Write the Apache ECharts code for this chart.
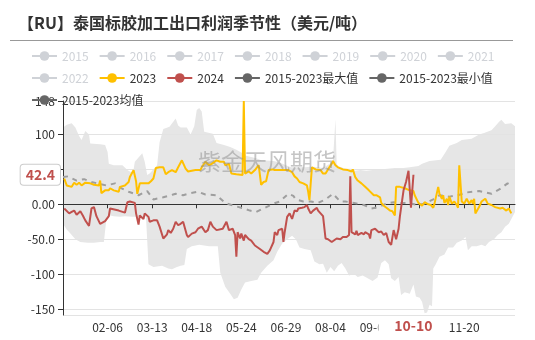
<!DOCTYPE html>
<html><head><meta charset="utf-8">
<script src="https://cdn.jsdelivr.net/npm/echarts@6/dist/echarts.min.js"></script>
<style>html,body{margin:0;padding:0;background:#fff}#c{width:535px;height:340px}</style>
</head><body><div id="c"></div>
<script>
// day-of-year categories (leap year, MM-DD)
const monthDays = [31,29,31,30,31,30,31,31,30,31,30,31];
const categories = [];
monthDays.forEach((n, m) => { for (let d = 1; d <= n; d++) categories.push(String(m + 1).padStart(2, '0') + '-' + String(d).padStart(2, '0')); });

const legendYears = ['2015','2016','2017','2018','2019','2020','2021','2022'];

// [day index, value]
const s2023 = [[1,37],[3,27],[7,25],[9,31],[11,28],[13,31],[15,27],[18,31],[22,30],[25,28],[29,27],[30,34],[31,16],[34,20],[37,20],[38,23],[41,20],[45,18],[46,25],[50,27],[53,32],[54,39],[57,49],[59,33],[60,15],[62,30],[69,30],[71,33],[73,37],[75,52],[78,53],[81,53],[83,43],[85,46],[88,49],[91,46],[93,53],[96,63],[99,51],[101,47],[107,49],[111,49],[112,53],[115,61],[118,56],[120,58],[124,63],[127,61],[130,61],[131,56],[134,58],[136,44],[140,43],[145,42],[146,148],[147,44],[150,47],[152,44],[155,49],[158,56],[159,42],[160,28],[162,32],[164,33],[166,49],[169,50],[171,49],[177,49],[182,49],[185,46],[187,40],[189,37],[191,32],[194,30],[197,27],[198,18],[199,6],[201,53],[204,50],[208,49],[210,44],[212,44],[214,50],[217,58],[218,62],[220,56],[222,53],[226,50],[230,49],[233,47],[234,50],[236,39],[238,34],[241,30],[244,25],[247,20],[248,21],[251,13],[253,13],[256,10],[257,2],[259,-2],[262,-6],[264,-9],[266,-10],[268,-16],[269,25],[272,25],[276,23],[280,20],[283,19],[284,13],[287,2],[290,-2],[292,3],[295,0],[297,-1],[299,-5],[300,1],[303,25],[304,15],[306,8],[307,13],[308,2],[310,8],[311,-1],[312,11],[314,1],[315,-1],[316,4],[318,-1],[319,-5],[320,56],[322,4],[324,1],[326,8],[328,1],[330,6],[331,1],[332,8],[333,-13],[336,-4],[338,4],[341,8],[343,1],[346,-1],[349,-4],[353,-6],[355,-5],[358,-9],[360,-6],[362,-13]];

const s2024 = [[1,-6],[5,-13],[7,-11],[9,-9],[11,-15],[14,-10],[16,-16],[18,-23],[21,-31],[23,-6],[25,-4],[27,-17],[30,-28],[34,-24],[37,-17],[38,-6],[45,-9],[50,-12],[52,3],[54,4],[58,2],[59,-13],[61,-29],[62,-16],[65,-21],[66,-13],[69,-18],[70,-25],[73,-23],[76,-23],[78,-32],[81,-49],[84,-43],[85,-37],[87,-41],[89,-35],[91,-25],[93,-30],[95,-28],[97,-25],[100,-44],[101,-47],[104,-42],[107,-40],[109,-35],[112,-32],[115,-40],[117,-37],[119,-25],[121,-32],[124,-37],[129,-35],[132,-25],[134,-37],[137,-35],[139,-44],[140,-75],[141,-40],[143,-49],[144,-42],[146,-52],[147,-44],[150,-50],[152,-52],[155,-59],[159,-64],[162,-68],[165,-71],[167,-66],[170,-54],[171,-40],[173,-44],[174,-37],[177,-35],[178,-54],[179,-40],[181,-18],[183,-13],[185,-21],[187,-9],[189,-10],[190,-6],[193,-5],[195,-4],[197,-1],[198,-6],[200,-13],[202,-9],[205,-5],[206,-9],[208,-13],[210,-17],[212,-49],[214,-50],[217,-54],[218,-53],[221,-49],[224,-50],[226,-47],[229,-47],[231,-44],[232,40],[233,-40],[236,-43],[237,-38],[238,-44],[241,-41],[243,-43],[244,-40],[247,-43],[248,-49],[249,-37],[252,-35],[255,-40],[257,-39],[259,-44],[261,-41],[263,-54],[265,-58],[267,-37],[269,-50],[271,-35],[272,-18],[273,-5],[275,20],[277,32],[279,48],[281,-5],[282,-4],[283,42.4]];

const bandMax = [[0,110],[3,114],[7,116],[10,110],[13,98],[15,92],[18,105],[21,100],[22,87],[30,86],[34,85],[36,75],[37,58],[41,56],[48,56],[52,49],[55,46],[57,50],[58,61],[64,73],[66,61],[68,42],[70,44],[76,56],[78,89],[81,108],[86,111],[91,123],[93,113],[95,110],[100,110],[103,100],[106,112],[108,135],[110,138],[112,133],[114,104],[121,101],[124,88],[130,85],[135,82],[140,78],[145,73],[146,148],[147,70],[156,66],[160,63],[170,62],[175,60],[180,56],[184,53],[190,53],[196,53],[201,54],[210,52],[217,60],[218,63],[220,122],[221,58],[222,55],[228,51],[233,51],[236,48],[240,49],[245,48],[250,49],[256,50],[262,51],[268,52],[275,52],[280,53],[287,55],[290,58],[296,62],[305,64],[309,75],[312,84],[318,88],[322,92],[330,94],[336,100],[340,102],[346,106],[349,112],[352,118],[354,121],[357,115],[362,116],[365,112]];

const bandMin = [[0,-28],[3,-36],[6,-42],[10,-50],[14,-54],[20,-55],[25,-55],[30,-54],[33,-54],[35,-22],[38,-16],[41,-17],[46,-18],[50,-17],[56,-18],[60,-18],[67,-18],[69,-86],[73,-90],[80,-88],[85,-92],[88,-93],[92,-90],[95,-88],[98,-87],[100,-64],[104,-60],[110,-58],[118,-60],[125,-60],[127,-98],[131,-118],[135,-128],[138,-136],[141,-134],[144,-122],[147,-112],[152,-110],[157,-108],[160,-98],[165,-88],[170,-80],[173,-68],[177,-56],[181,-50],[185,-45],[188,-50],[191,-62],[195,-64],[200,-66],[203,-82],[207,-86],[210,-85],[213,-98],[216,-90],[219,-96],[222,-88],[225,-84],[228,-92],[231,-102],[235,-100],[238,-104],[242,-102],[246,-106],[250,-110],[254,-105],[257,-84],[260,-80],[263,-86],[265,-106],[268,-110],[271,-104],[273,-130],[276,-126],[280,-128],[283,-115],[285,-132],[288,-134],[290,-140],[292,-156],[294,-155],[296,-144],[298,-146],[299,-92],[301,-86],[304,-75],[308,-72],[311,-62],[315,-62],[318,-55],[322,-52],[325,-47],[327,-66],[330,-60],[334,-60],[338,-58],[341,-60],[344,-54],[348,-50],[351,-44],[354,-40],[357,-32],[360,-28],[363,-18],[365,-11]];

const meanLine = [[0,39],[4,40],[11,34],[17,36],[23,32],[30,29],[35,27],[42,30],[46,24],[53,18],[61,13],[68,19],[73,7],[81,10],[89,14],[91,15],[97,13],[103,16],[109,18],[115,14],[124,13],[131,2],[136,-1],[146,-6],[151,-9],[156,-11],[163,-5],[170,1],[175,4],[182,15],[186,12],[188,7],[194,4],[200,4],[206,2],[212,7],[218,15],[224,4],[228,4],[235,2],[243,-1],[249,-6],[255,-4],[261,1],[267,3],[272,2],[278,2],[287,-1],[292,1],[299,7],[304,13],[312,11],[319,13],[326,17],[336,19],[346,15],[353,22],[359,30],[362,27]];

const yMin = -158.6, yMax = 148;
const labelEvery = 36;
const lastPoint = s2024[s2024.length - 1];

const RED = '#c0504d', YEL = '#ffc000', DARK = '#666';
const NAME_MAX = '2015-2023最大值', NAME_MIN = '2015-2023最小值', NAME_MEAN = '2015-2023均值';

const chart = echarts.init(document.getElementById('c'), null, {renderer: 'canvas'});
const selected = {};
legendYears.forEach(y => selected[y] = false);

const series = legendYears.map(y => ({name: y, type: 'line', data: [], symbol: 'circle', showSymbol: false, itemStyle: {color: '#bbb'}}));
series.push(
  {name: NAME_MAX, type: 'line', data: bandMax, symbol: 'circle', showSymbol: false, silent: true, z: 1,
   itemStyle: {color: DARK}, lineStyle: {width: 0, color: '#e6e6e6'}, areaStyle: {color: '#e6e6e6', opacity: 1}},
  {name: NAME_MIN, type: 'line', data: bandMin, symbol: 'circle', showSymbol: false, silent: true, z: 1,
   itemStyle: {color: DARK}, lineStyle: {width: 0, color: '#e6e6e6'}, areaStyle: {color: '#e6e6e6', opacity: 1}},
  {name: NAME_MEAN, type: 'line', data: meanLine, symbol: 'circle', showSymbol: false, z: 3,
   itemStyle: {color: DARK}, lineStyle: {color: '#9e9e9e', width: 2, type: [5, 5]}},
  {name: '2023', type: 'line', data: s2023, symbol: 'circle', showSymbol: false, z: 4,
   itemStyle: {color: YEL}, lineStyle: {color: YEL, width: 2}},
  {name: '2024', type: 'line', data: s2024, symbol: 'circle', showSymbol: false, z: 5,
   itemStyle: {color: RED}, lineStyle: {color: RED, width: 2}}
);

const darkLegend = n => ({name: n, itemStyle: {color: DARK}, lineStyle: {color: DARK, width: 2, type: 'solid', opacity: 1}});

chart.setOption({
  animation: false,
  textStyle: {fontFamily: '"Microsoft YaHei", "Noto Sans CJK SC", sans-serif'},
  title: {text: '【RU】泰国标胶加工出口利润季节性（美元/吨）', left: 18, top: 15, padding: 0,
    textStyle: {fontSize: 16, fontWeight: 'bold', color: '#333'}},
  legend: {left: 26, right: 15, top: 45, itemWidth: 25, itemHeight: 12, itemGap: 10,
    textStyle: {fontSize: 12, color: '#333'}, selected: selected,
    data: legendYears.concat(['2023', '2024']).concat([darkLegend(NAME_MAX), darkLegend(NAME_MIN), darkLegend(NAME_MEAN)])},
  grid: {left: 63, right: 20, top: 101, bottom: 25},
  xAxis: [
    {type: 'category', data: categories, boundaryGap: false, position: 'bottom', z: 2,
     axisLine: {onZero: true, lineStyle: {color: '#333'}},
     axisTick: {interval: labelEvery - 1, length: 4, lineStyle: {color: '#333'}},
     axisLabel: {show: false}, splitLine: {show: false}},
    {type: 'category', data: categories, boundaryGap: false, position: 'bottom',
     axisLine: {show: false, onZero: false}, axisTick: {show: false},
     axisLabel: {interval: (i) => i > 0 && i % labelEvery === 0 && i < 350, color: '#333', fontSize: 12, margin: 6},
     splitLine: {show: false},
     axisPointer: {show: true, status: 'show', value: lastPoint[0], triggerTooltip: false,
       lineStyle: {opacity: 0},
       label: {show: true, color: RED, fontWeight: 'bold', fontSize: 14, backgroundColor: '#fff',
         padding: [2, 16, 2, 16], margin: 2, borderWidth: 0, shadowBlur: 0}}}
  ],
  yAxis: {type: 'value', min: yMin, max: yMax, z: 2,
    axisLine: {show: true, lineStyle: {color: '#333'}},
    axisTick: {show: true, lineStyle: {color: '#333'}},
    axisLabel: {formatter: v => v.toPrecision(3), color: '#333', fontSize: 12, showMinLabel: false},
    splitLine: {lineStyle: {color: '#e3e3e3'}},
    axisPointer: {show: true, status: 'show', value: lastPoint[1], triggerTooltip: false,
      lineStyle: {opacity: 0},
      label: {show: true, color: RED, fontWeight: 'bold', fontSize: 14, backgroundColor: '#fff',
        formatter: p => Number(p.value).toPrecision(3),
        borderColor: '#ccc', borderWidth: 1, padding: [3, 5, 3, 5], shadowBlur: 0}}},
  graphic: [
    {type: 'line', shape: {x1: 10, y1: 40.5, x2: 513, y2: 40.5}, style: {stroke: '#999', lineWidth: 1}},
    {type: 'text', left: 198, top: 150, z: 100, silent: true,
     style: {text: '紫金天风期货', fontSize: 23, fill: 'rgba(140,140,140,0.5)', fontFamily: '"Noto Sans CJK SC", sans-serif'}}
  ],
  series: series
});
</script></body></html>
